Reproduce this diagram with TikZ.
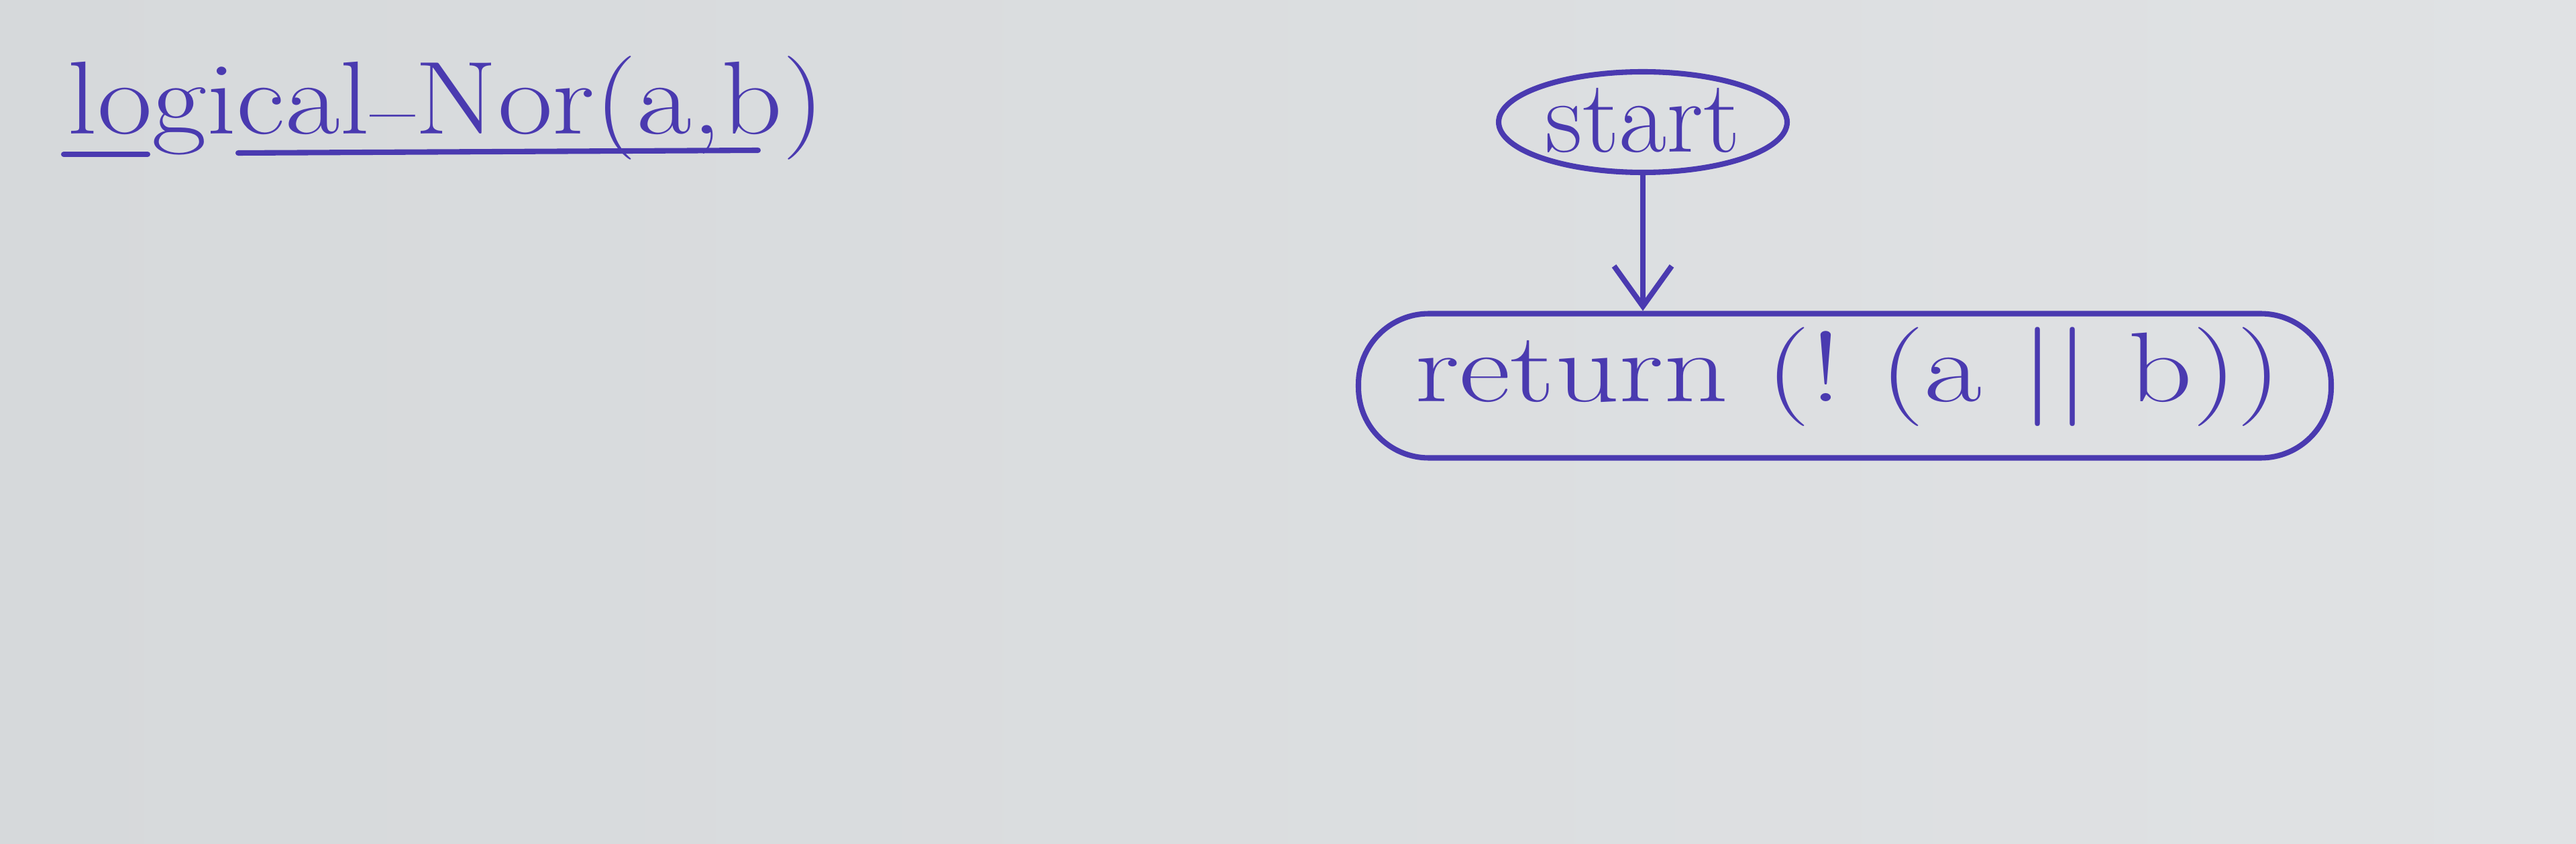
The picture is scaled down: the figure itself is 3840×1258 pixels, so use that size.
\documentclass[tikz,border=0pt]{standalone}
\usetikzlibrary{shapes.geometric,arrows.meta}
\definecolor{ink}{RGB}{74,58,176}
\definecolor{paper}{RGB}{214,217,219}
\definecolor{paperlight}{RGB}{224,226,228}
\tikzset{
  pen/.style={draw=ink, line width=2.3pt, line cap=round, line join=round},
  oval/.style={ellipse, pen, inner sep=0pt, text=ink},
  stadium/.style={rectangle, rounded corners=10.5mm, pen, inner sep=0pt},
  hand/.style={text=ink, inner sep=0pt, font=\fontsize{40}{44}\selectfont},
}
\begin{document}
\begin{tikzpicture}[x=0.1mm,y=-0.1mm]
\shade[left color=paper, right color=paperlight] (0,0) rectangle (3840,1258);
\useasboundingbox (0,0) rectangle (3840,1258);
% title
\node[hand, anchor=base west, font=\fontsize{44}{48}\selectfont] (title) at (100,200)
  {\scalebox{1.15}[1]{logical\raisebox{0.3em}{\scalebox{0.55}[1]{\_}}Nor(a,b)}};
\coordinate (u1) at (95,230);
\coordinate (u2) at (220,230);
\coordinate (u3) at (355,228);
\coordinate (u4) at (1130,224);
\draw[pen] (u1) -- (u2);
\draw[pen] (u3) -- (u4);
% flowchart
\node[oval, minimum width=43mm, minimum height=15mm] (st) at (2449,182) {};
\node[hand, font=\fontsize{44}{48}\selectfont] (sttext) at (2449,180) {start};
\node[stadium, minimum width=145mm, minimum height=21.5mm] (ret) at (2750,575) {};
\node[hand, font=\fontsize{42}{46}\selectfont] (rettext) at (2755,562)
  {\scalebox{1.27}[1]{return\ (!\ (a\ ||\ b))}};
\draw[pen, -{Straight Barb[length=6mm, width=8.6mm, line width=2.3pt]}] (st.south) -- (st.south |- ret.north);
\end{tikzpicture}
\end{document}
